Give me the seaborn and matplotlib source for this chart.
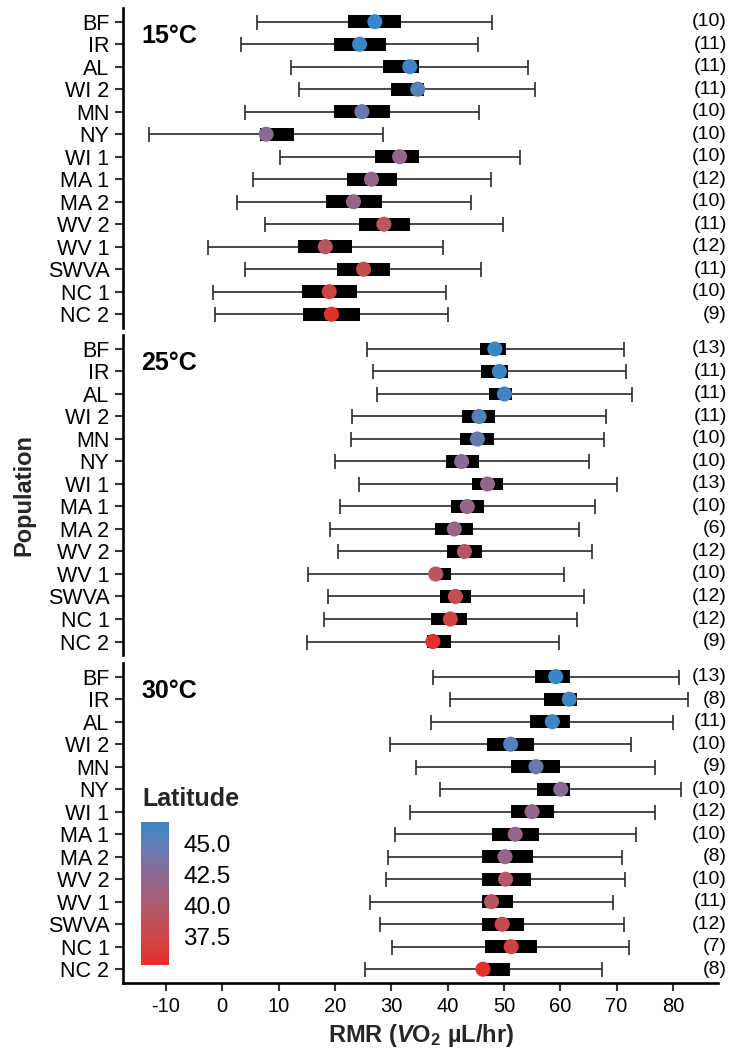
import numpy as np
import pandas as pd
import matplotlib
matplotlib.use("Agg")
import matplotlib.pyplot as plt
import matplotlib.colors as mcolors
import matplotlib.transforms as mtransforms
from matplotlib.ticker import FormatStrFormatter
import seaborn as sns

# ---------------------------------------------------------------- data
populations = ["BF", "IR", "AL", "WI 2", "MN", "NY", "WI 1",
               "MA 1", "MA 2", "WV 2", "WV 1", "SWVA", "NC 1", "NC 2"]
latitude = [46.73, 46.55, 46.45, 45.3, 44.4, 42.7, 42.0,
            41.9, 41.7, 39.4, 39.2, 38.2, 37.1, 35.23]
temperatures = ["15°C", "25°C", "30°C"]

# mean RMR
rmr_15 = [27.1, 24.4, 33.3, 34.7, 24.8, 7.8, 31.5, 26.5, 23.3, 28.7, 18.3, 25.1, 19.0, 19.4]
rmr_25 = [48.4, 49.2, 50.1, 45.6, 45.3, 42.5, 47.1, 43.5, 41.2, 43.0, 37.9, 41.4, 40.5, 37.4]
rmr_30 = [59.2, 61.6, 58.6, 51.2, 55.7, 60.1, 55.0, 52.0, 50.2, 50.3, 47.8, 49.7, 51.3, 46.3]

# whisker ends
lo_15 = [6.1, 3.4, 12.3, 13.6, 4.0, -12.9, 10.3, 5.4, 2.6, 7.6, -2.6, 4.1, -1.7, -1.2]
hi_15 = [47.9, 45.4, 54.2, 55.5, 45.5, 28.6, 52.8, 47.8, 44.1, 49.8, 39.2, 46.0, 39.8, 40.0]
lo_25 = [25.7, 26.7, 27.5, 23.0, 22.8, 20.0, 24.3, 21.0, 19.1, 20.6, 15.3, 18.8, 18.1, 15.1]
hi_25 = [71.4, 71.6, 72.8, 68.1, 67.8, 65.1, 70.0, 66.1, 63.4, 65.6, 60.6, 64.2, 63.0, 59.8]
lo_30 = [37.5, 40.4, 37.1, 29.7, 34.4, 38.7, 33.3, 30.6, 29.4, 29.1, 26.2, 28.0, 30.2, 25.3]
hi_30 = [81.1, 82.7, 80.1, 72.5, 76.8, 81.4, 76.8, 73.4, 70.9, 71.5, 69.4, 71.4, 72.2, 67.4]

# box ends
box_lo_15 = [22.3, 19.8, 28.6, 29.9, 19.9, 6.8, 27.2, 22.1, 18.4, 24.2, 13.5, 20.4, 14.2, 14.4]
box_hi_15 = [31.8, 29.0, 35.0, 35.8, 29.7, 12.7, 35.0, 31.1, 28.3, 33.3, 23.1, 29.8, 23.9, 24.4]
box_lo_25 = [45.8, 46.0, 47.3, 42.6, 42.2, 39.7, 44.4, 40.6, 37.7, 39.9, 37.0, 38.6, 37.1, 36.3]
box_hi_25 = [50.4, 50.7, 51.5, 48.4, 48.3, 45.5, 49.8, 46.5, 44.6, 46.1, 40.7, 44.2, 43.5, 40.6]
box_lo_30 = [55.5, 57.1, 54.6, 47.0, 51.3, 55.8, 51.3, 47.9, 46.2, 46.2, 46.2, 46.2, 46.7, 46.4]
box_hi_30 = [61.8, 62.9, 61.8, 55.3, 60.0, 61.8, 58.9, 56.2, 55.1, 54.8, 51.7, 53.6, 55.8, 51.0]

# sample sizes
n_15 = [10, 11, 11, 11, 10, 10, 10, 12, 10, 11, 12, 11, 10, 9]
n_25 = [13, 11, 11, 11, 10, 10, 13, 10, 6, 12, 10, 12, 12, 9]
n_30 = [13, 8, 11, 10, 9, 10, 12, 10, 8, 10, 11, 12, 7, 8]

x_ticks = [-10, 0, 10, 20, 30, 40, 50, 60, 70, 80]
lat_ticks = [37.5, 40.0, 42.5, 45.0]

panels = [
    (temperatures[0], rmr_15, lo_15, hi_15, box_lo_15, box_hi_15, n_15),
    (temperatures[1], rmr_25, lo_25, hi_25, box_lo_25, box_hi_25, n_25),
    (temperatures[2], rmr_30, lo_30, hi_30, box_lo_30, box_hi_30, n_30),
]

# ---------------------------------------------------------------- style
sns.set_theme(style="ticks")
plt.rcParams["font.family"] = ["Liberation Sans", "DejaVu Sans"]
plt.rcParams["mathtext.fontset"] = "custom"
plt.rcParams["mathtext.rm"] = "Liberation Sans:bold"
plt.rcParams["mathtext.bf"] = "Liberation Sans:bold"
plt.rcParams["mathtext.it"] = "Liberation Sans:italic:bold"

lat_cmap = mcolors.LinearSegmentedColormap.from_list(
    "latitude",
    [(0.0, "#E2302A"), (0.2, "#CC4848"), (0.415, "#B15C6E"),
     (0.632, "#8B6B92"), (0.85, "#5D7DB8"), (1.0, "#3987C8")])
lat_norm = mcolors.Normalize(vmin=min(latitude), vmax=max(latitude))

W, H = 730, 1053
fig = plt.figure(figsize=(W / 100, H / 100), dpi=100)

left = 123 / W
width = (718 - 123) / W
ax_h = 319.5 / H
ax_bottoms = [1 - 327.7 / H, 1 - 655.0 / H, 1 - 982.7 / H]

rows = np.arange(len(populations))
axes = []
for i, (temp, mean, lo, hi, blo, bhi, n) in enumerate(panels):
    ax = fig.add_axes([left, ax_bottoms[i], width, ax_h])
    axes.append(ax)
    df = pd.DataFrame({
        "population": populations, "row": rows, "latitude": latitude,
        "rmr": mean, "lo": lo, "hi": hi, "box_lo": blo, "box_hi": bhi, "n": n,
    })

    # whiskers with caps
    ax.errorbar(df["rmr"], df["row"],
                xerr=[df["rmr"] - df["lo"], df["hi"] - df["rmr"]],
                fmt="none", ecolor="#2a2a2a", elinewidth=1.2,
                capsize=5.4, capthick=1.2, zorder=1)
    # black boxes
    ax.barh(df["row"], df["box_hi"] - df["box_lo"], left=df["box_lo"],
            height=0.56, color="black", linewidth=0, zorder=2)
    # mean points coloured by latitude
    sns.scatterplot(data=df, x="rmr", y="row", hue="latitude",
                    palette=lat_cmap, hue_norm=lat_norm, s=118,
                    linewidth=0, legend=False, ax=ax, zorder=3)

    ax.set_xlim(-17.6, 88.0)
    ax.set_ylim(13.6, -0.6)
    ax.set_yticks(rows)
    ax.set_yticklabels(populations)
    ax.set_xlabel("")
    ax.set_ylabel("")
    ax.tick_params(axis="y", length=5.8, width=1.5, color="#333333",
                   pad=4, labelsize=15.5, labelcolor="black")
    for side in ["top", "right"]:
        ax.spines[side].set_visible(False)
    ax.spines["left"].set_linewidth(1.9)
    ax.spines["left"].set_color("black")

    if i < 2:
        ax.spines["bottom"].set_visible(False)
        ax.tick_params(axis="x", bottom=False, labelbottom=False)
    else:
        ax.spines["bottom"].set_linewidth(1.9)
        ax.spines["bottom"].set_color("black")
        ax.set_xticks(x_ticks)
        ax.set_xticklabels([str(t) for t in x_ticks])
        ax.tick_params(axis="x", length=6, width=1.5, color="#333333",
                       pad=4.5, labelsize=14.5, labelcolor="black")
        ax.set_xlabel(r"RMR ($V$O$_{2}$ µL/hr)", fontsize=17,
                      fontweight="bold", labelpad=4)

    # temperature label
    ax.text(-14.35, 0.93, temp, fontsize=18, fontweight="bold",
            ha="left", va="baseline", color="black")

    # sample sizes at the right margin
    trans = mtransforms.blended_transform_factory(fig.transFigure, ax.transData)
    for r, count in zip(df["row"], df["n"]):
        ax.text(727 / W, r, f"({count})", transform=trans, ha="right",
                va="center", fontsize=14, color="black", clip_on=False)

# shared y label
fig.text(24 / W, 1 - 495 / H, "Population", rotation=90, fontsize=17,
         fontweight="bold", ha="center", va="center")

# latitude colour bar
cax = fig.add_axes([141 / W, 1 - 965 / H, 28.3 / W, 143.3 / H])
sm = plt.cm.ScalarMappable(norm=lat_norm, cmap=lat_cmap)
cb = fig.colorbar(sm, cax=cax, ticks=lat_ticks)
cb.outline.set_visible(False)
cb.ax.yaxis.set_major_formatter(FormatStrFormatter("%.1f"))
cb.ax.tick_params(direction="in", length=6, width=1.5, colors="white",
                  labelcolor="black", left=True, right=True,
                  labelleft=False, labelright=True, labelsize=17.5, pad=10)
fig.text(142 / W, 1 - 806 / H, "Latitude", fontsize=18, fontweight="bold",
         ha="left", va="baseline")

fig.savefig("out.png", dpi=100)
